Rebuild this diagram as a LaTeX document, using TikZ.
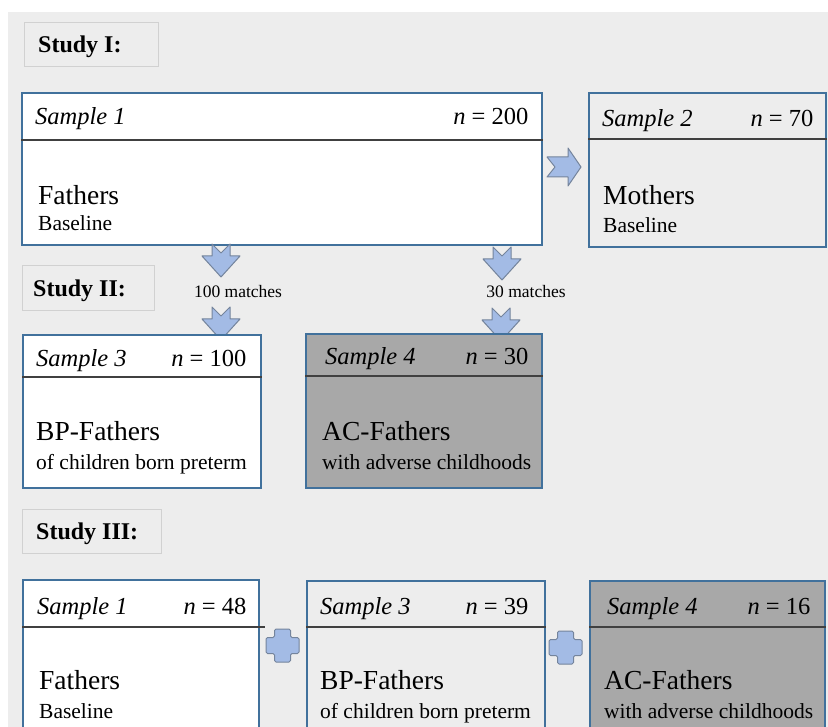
\documentclass[tikz,border=0pt]{standalone}
\usepackage{fontspec}
\setmainfont{Liberation Serif}
\usetikzlibrary{calc,positioning}
\definecolor{studybg}{HTML}{EDEDED}
\definecolor{boxblue}{HTML}{41719C}
\definecolor{arrowfill}{HTML}{A3BBE5}
\definecolor{arrowline}{HTML}{74849C}
\definecolor{darkfill}{HTML}{A8A8A8}
\definecolor{sepgray}{HTML}{404040}
\tikzset{
  samplebox/.style={draw=boxblue,line width=1.6pt,anchor=north west,inner sep=0pt},
  studybox/.style={draw=black!18,line width=1pt,fill=studybg,anchor=north west,inner sep=0pt},
  studylbl/.style={font=\fontsize{24}{28}\selectfont\bfseries,inner sep=0pt,anchor=base west},
  hdr/.style={font=\fontsize{24.5}{28}\selectfont,inner sep=0pt},
  titletxt/.style={font=\fontsize{27.5}{32}\selectfont,inner sep=0pt,anchor=base west},
  subtxt/.style={font=\fontsize{21.5}{25}\selectfont,inner sep=0pt,anchor=base west},
  matchtxt/.style={font=\fontsize{17.5}{20}\selectfont,inner sep=0pt,anchor=base},
  sepline/.style={draw=sepgray,line width=1.2pt},
  arrowshape/.style={fill=arrowfill,draw=arrowline,line width=1pt,line join=round},
  pics/downarr/.style={code={
    \filldraw[arrowshape] (-9,0) -- (0,9) -- (9,0) -- (9,12) -- (19,12) -- (0,33) -- (-19,12) -- (-9,12) -- cycle;}},
  pics/rightarr/.style={code={
    \filldraw[arrowshape] (0,-10) -- (21,-10) -- (21,-19) -- (34,0) -- (21,19) -- (21,10) -- (0,10) -- (8,0) -- cycle;}},
  pics/plussign/.style={code={
    \filldraw[arrowshape,rounded corners=1.5pt] (-8,-16.5) -- (8,-16.5) -- (8,-8) -- (16.5,-8) -- (16.5,8) -- (8,8) -- (8,16.5)
      -- (-8,16.5) -- (-8,8) -- (-16.5,8) -- (-16.5,-8) -- (-8,-8) -- cycle;}}
}

\begin{document}
\begin{tikzpicture}[x=1pt,y=-1pt]
	\useasboundingbox (0,0) rectangle (828,727);
	\fill[studybg] (8,12) rectangle (828,727);

	% Study I
	\node[studybox,minimum width=134pt,minimum height=44pt] (st1) at (24,22) {};
	\node[studylbl] (st1t) at ($(st1.north west)+(14,31)$) {Study I:};

	\node[samplebox,fill=white,minimum width=520pt,minimum height=152pt] (s1) at (21,92) {};
	\node[hdr,anchor=base west] (s1h) at ($(s1.north west)+(14,33)$) {\itshape Sample 1};
	\node[hdr,anchor=base east] (s1n) at ($(s1.north east)+(-14,33)$) {\textit{n} = 200};
	\draw[sepline] ($(s1.north west)+(0,48)$) -- ($(s1.north east)+(0,48)$);
	\node[titletxt] (s1a) at ($(s1.north west)+(17,113)$) {Fathers};
	\node[subtxt] (s1b) at ($(s1.north west)+(17,139)$) {Baseline};

	\node[samplebox,fill=studybg,minimum width=237pt,minimum height=154pt] (s2) at (588,92) {};
	\node[hdr,anchor=base west] (s2h) at ($(s2.north west)+(14,35)$) {\itshape Sample 2};
	\node[hdr,anchor=base east] (s2n) at ($(s2.north east)+(-13,35)$) {\textit{n} = 70};
	\draw[sepline] ($(s2.north west)+(0,47)$) -- ($(s2.north east)+(0,47)$);
	\node[titletxt] (s2a) at ($(s2.north west)+(15,113)$) {Mothers};
	\node[subtxt] (s2b) at ($(s2.north west)+(15,141)$) {Baseline};

	\pic at (547,167) {rightarr};

	% Study II
	\node[studybox,minimum width=132pt,minimum height=45pt] (st2) at (22,265) {};
	\node[studylbl] (st2t) at ($(st2.north west)+(11,32)$) {Study II:};

	\node[matchtxt] (m1) at (238,298) {100 matches};
	\node[matchtxt] (m2) at (526,298) {30 matches};
	\pic at (221,244) {downarr};
	\pic at (221,307) {downarr};
	\pic at (502,247) {downarr};
	\pic at (501,308) {downarr};

	\node[samplebox,fill=white,minimum width=238pt,minimum height=153pt] (s3) at (22,334) {};
	\node[hdr,anchor=base west] (s3h) at ($(s3.north west)+(14,33)$) {\itshape Sample 3};
	\node[hdr,anchor=base east] (s3n) at ($(s3.north east)+(-15,33)$) {\textit{n} = 100};
	\draw[sepline] ($(s3.north west)+(0,43)$) -- ($(s3.north east)+(0,43)$);
	\node[titletxt] (s3a) at ($(s3.north west)+(14,106)$) {BP-Fathers};
	\node[subtxt] (s3b) at ($(s3.north west)+(14,135)$) {of children born preterm};

	\node[samplebox,fill=darkfill,minimum width=236pt,minimum height=154pt] (s4) at (305,333) {};
	\node[hdr,anchor=base west] (s4h) at ($(s4.north west)+(20,32)$) {\itshape Sample 4};
	\node[hdr,anchor=base east] (s4n) at ($(s4.north east)+(-14,32)$) {\textit{n} = 30};
	\draw[sepline] ($(s4.north west)+(0,43)$) -- ($(s4.north east)+(0,43)$);
	\node[titletxt] (s4a) at ($(s4.north west)+(17,108)$) {AC-Fathers};
	\node[subtxt] (s4b) at ($(s4.north west)+(17,136)$) {with adverse childhoods};

	% Study III
	\node[studybox,minimum width=139pt,minimum height=44pt] (st3) at (22,509) {};
	\node[studylbl] (st3t) at ($(st3.north west)+(14,30)$) {Study III:};

	\node[samplebox,fill=white,minimum width=236pt,minimum height=160pt] (t1) at (22,579) {};
	\node[hdr,anchor=base west] (t1h) at ($(t1.north west)+(15,35)$) {\itshape Sample 1};
	\node[hdr,anchor=base east] (t1n) at ($(t1.north east)+(-13,35)$) {\textit{n} = 48};
	\draw[sepline] ($(t1.north west)+(0,48)$) -- ($(t1.north east)+(5,48)$);
	\node[titletxt] (t1a) at ($(t1.north west)+(17,110)$) {Fathers};
	\node[subtxt] (t1b) at ($(t1.north west)+(17,139)$) {Baseline};

	\node[samplebox,fill=studybg,minimum width=238pt,minimum height=160pt] (t3) at (306,580) {};
	\node[hdr,anchor=base west] (t3h) at ($(t3.north west)+(14,34)$) {\itshape Sample 3};
	\node[hdr,anchor=base east] (t3n) at ($(t3.north east)+(-17,34)$) {\textit{n} = 39};
	\draw[sepline] ($(t3.north west)+(0,47)$) -- ($(t3.north east)+(0,47)$);
	\node[titletxt] (t3a) at ($(t3.north west)+(14,109)$) {BP-Fathers};
	\node[subtxt] (t3b) at ($(t3.north west)+(14,138)$) {of children born preterm};

	\node[samplebox,fill=darkfill,minimum width=235pt,minimum height=160pt] (t4) at (589,580) {};
	\node[hdr,anchor=base west] (t4h) at ($(t4.north west)+(18,34)$) {\itshape Sample 4};
	\node[hdr,anchor=base east] (t4n) at ($(t4.north east)+(-15,34)$) {\textit{n} = 16};
	\draw[sepline] ($(t4.north west)+(0,47)$) -- ($(t4.north east)+(0,47)$);
	\node[titletxt] (t4a) at ($(t4.north west)+(15,109)$) {AC-Fathers};
	\node[subtxt] (t4b) at ($(t4.north west)+(15,138)$) {with adverse childhoods};

	\pic at (282.5,645.5) {plussign};
	\pic at (565.5,647.5) {plussign};
\end{tikzpicture}
\end{document}
